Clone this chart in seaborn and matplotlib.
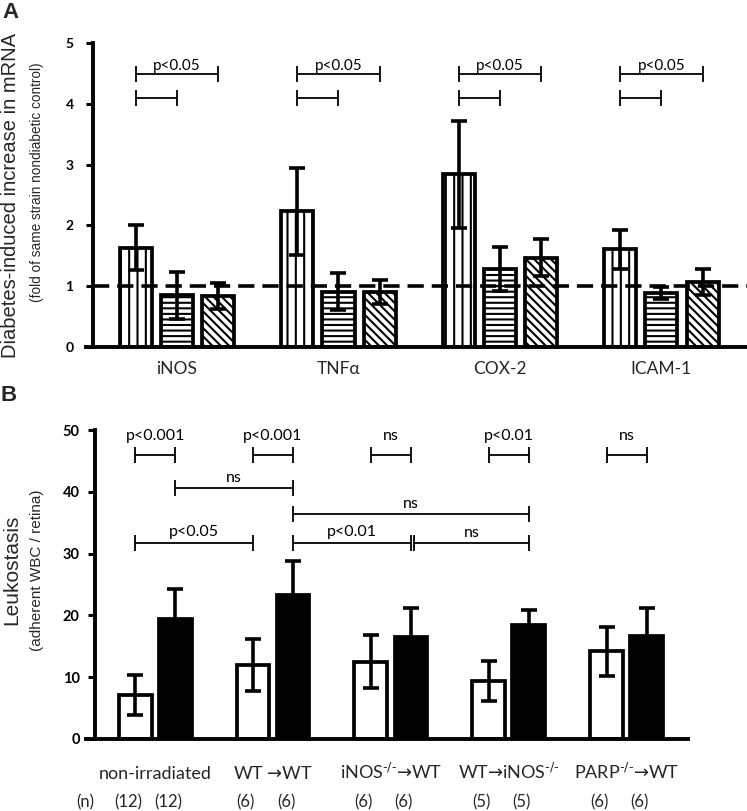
import numpy as np
import pandas as pd
import seaborn as sns
import matplotlib.pyplot as plt
from matplotlib.transforms import blended_transform_factory

# ---------------- Panel A data ----------------
genes = ['iNOS', 'TNFα', 'COX-2', 'ICAM-1']
chimeras_a = ['WT→WT', 'iNOS-/-→WT', 'PARP-/-→WT']
mrna_wt = [1.63, 2.23, 2.84, 1.61]
mrna_wt_sem = [0.37, 0.71, 0.88, 0.32]
mrna_inos = [0.85, 0.91, 1.28, 0.89]
mrna_inos_sem = [0.39, 0.30, 0.36, 0.10]
mrna_parp = [0.84, 0.91, 1.47, 1.07]
mrna_parp_sem = [0.22, 0.20, 0.30, 0.22]
a_yticks = [0, 1, 2, 3, 4, 5]
a_reference = 1.0
# comparisons in every gene group: (bar i, bar j, level, label)
a_comparisons = [(0, 2, 4.49, 'p<0.05'), (0, 1, 4.10, '')]

# ---------------- Panel B data ----------------
groups_b = ['non-irradiated',
            r'WT $\text{→}$WT',
            r'iNOS$^{\text{-/-}}\text{→}$WT',
            r'WT$\text{→}$iNOS$^{\text{-/-}}$',
            r'PARP$^{\text{-/-}}\text{→}$WT']
conditions_b = ['nondiabetic', 'diabetic']
leuko_nondiab = [7.1, 12.0, 12.5, 9.4, 14.2]
leuko_nondiab_sem = [3.2, 4.2, 4.3, 3.3, 4.0]
leuko_diab = [19.4, 23.3, 16.5, 18.4, 16.6]
leuko_diab_sem = [4.9, 5.5, 4.7, 2.4, 4.6]
n_nondiab = [12, 6, 6, 5, 6]
n_diab = [12, 6, 6, 5, 6]
b_yticks = [0, 10, 20, 30, 40, 50]
# ((group, condition), (group, condition), level, label, label gap)
b_comparisons = [
    ((0, 0), (0, 1), 46.0, 'p<0.001', 2.4),
    ((1, 0), (1, 1), 46.0, 'p<0.001', 2.4),
    ((2, 0), (2, 1), 46.0, 'ns', 2.4),
    ((3, 0), (3, 1), 46.0, 'p<0.01', 2.4),
    ((4, 0), (4, 1), 46.0, 'ns', 2.4),
    ((0, 1), (1, 1), 40.6, 'ns', 1.0),
    ((1, 1), (3, 1), 36.4, 'ns', 1.0),
    ((0, 0), (1, 0), 31.7, 'p<0.05', 1.2),
    ((1, 1), (2, 1), 31.7, 'p<0.01', 1.2),
    ((2, 1), (3, 1), 31.7, 'ns', 1.0),
]

# ---------------- style ----------------
sns.set_theme(style='ticks')
plt.rcParams['font.family'] = ['Lato', 'DejaVu Sans']
plt.rcParams['mathtext.fontset'] = 'dejavusans'
plt.rcParams['hatch.linewidth'] = 1.5
plt.rcParams['hatch.color'] = 'black'
plt.rcParams['axes.linewidth'] = 2.8

fig = plt.figure(figsize=(7.47, 8.11), dpi=100)
W, H = 747.0, 811.0
axA = fig.add_axes([93 / W, 1 - 347 / H, (747 - 93) / W, (347 - 43) / H])
axB = fig.add_axes([95 / W, 1 - 739 / H, (688 - 95) / W, (739 - 430) / H])

EDGE_LW = 2.7


def bracket(ax, x1, x2, y, h, label, gap, fs):
    kw = dict(color='black', lw=1.3, solid_capstyle='butt', zorder=6, clip_on=False)
    ax.plot([x1, x2], [y, y], **kw)
    ax.plot([x1, x1], [y - h, y + h], **kw)
    ax.plot([x2, x2], [y - h, y + h], **kw)
    if label:
        ax.text((x1 + x2) / 2, y + gap, label, ha='center', va='baseline',
                fontsize=fs, color='black')


def style_axis(ax):
    sns.despine(ax=ax)
    for s in ['left', 'bottom']:
        ax.spines[s].set_linewidth(2.8)
        ax.spines[s].set_color('black')
    ax.tick_params(axis='y', direction='out', length=5, width=2.2, colors='black')
    ax.tick_params(axis='x', length=0)
    ax.set_xlabel('')
    ax.set_ylabel('')
    ax.set_facecolor('white')


# ---------------- Panel A ----------------
dfA = pd.DataFrame({
    'gene': genes * 3,
    'strain': sum([[c] * len(genes) for c in chimeras_a], []),
    'value': mrna_wt + mrna_inos + mrna_parp,
})
semA = [mrna_wt_sem, mrna_inos_sem, mrna_parp_sem]
sns.barplot(data=dfA, x='gene', y='value', hue='strain', order=genes,
            hue_order=chimeras_a, palette=['white'] * 3, saturation=1,
            edgecolor='black', linewidth=EDGE_LW, width=0.765, gap=0.22,
            errorbar=None, legend=False, ax=axA)
hatches = ['||', '---', '\\\\\\\\']
centersA = []
bar_conts_A = list(axA.containers)
for k, cont in enumerate(bar_conts_A):
    xs, ys = [], []
    for p in cont.patches:
        p.set_hatch(hatches[k])
        p.set_facecolor('white')
        p.set_edgecolor('black')
        xs.append(p.get_x() + p.get_width() / 2)
        ys.append(p.get_height())
    centersA.append(xs)
    axA.errorbar(xs, ys, yerr=semA[k], fmt='none', ecolor='black',
                 elinewidth=2.6, capsize=6, capthick=2.6, zorder=5)
axA.axhline(a_reference, color='black', lw=2.6, ls=(0, (4.5, 2.2)), zorder=4)
axA.set_ylim(0, 5)
axA.set_xlim(-0.52, 3.53)
axA.set_yticks(a_yticks)
style_axis(axA)
axA.tick_params(axis='y', labelsize=10, pad=9)
axA.tick_params(axis='x', labelsize=12.5, pad=10)
for t in axA.get_yticklabels():
    t.set_fontweight('bold')
axA.spines['bottom'].set_bounds(-0.563, 3.53)
for g in range(len(genes)):
    for i, j, lvl, lab in a_comparisons:
        bracket(axA, centersA[i][g], centersA[j][g], lvl, 0.13, lab, 0.07, 11)

# ---------------- Panel B ----------------
dfB = pd.DataFrame({
    'group': groups_b * 2,
    'cond': sum([[c] * len(groups_b) for c in conditions_b], []),
    'value': leuko_nondiab + leuko_diab,
})
semB = [leuko_nondiab_sem, leuko_diab_sem]
nB = [n_nondiab, n_diab]
sns.barplot(data=dfB, x='group', y='value', hue='cond', order=groups_b,
            hue_order=conditions_b, palette=['white', 'black'], saturation=1,
            edgecolor='black', linewidth=EDGE_LW, width=0.68, gap=0.18,
            errorbar=None, legend=False, ax=axB)
centersB = []
trans = blended_transform_factory(axB.transData, axB.transAxes)
bar_conts_B = list(axB.containers)
for k, cont in enumerate(bar_conts_B):
    xs, ys = [], []
    for p in cont.patches:
        p.set_edgecolor('black')
        xs.append(p.get_x() + p.get_width() / 2)
        ys.append(p.get_height())
    centersB.append(xs)
    axB.errorbar(xs, ys, yerr=semB[k], fmt='none', ecolor='black',
                 elinewidth=2.6, capsize=6, capthick=2.6, zorder=5)
    for x, n in zip(xs, nB[k]):
        axB.text(x - 0.06, -0.205, f'({n})', transform=trans, ha='center',
                 va='center', fontsize=12, clip_on=False)
axB.text(-0.017, -0.205, '(n)', transform=axB.transAxes, ha='center',
         va='center', fontsize=12)
axB.set_ylim(0, 50)
axB.set_xlim(-0.51, 4.52)
axB.set_yticks(b_yticks)
style_axis(axB)
axB.tick_params(axis='y', labelsize=10.5, pad=6)
axB.tick_params(axis='x', labelsize=13, pad=29)
for t in axB.get_yticklabels():
    t.set_fontweight('bold')
for t in axB.get_xticklabels():
    t.set_va('baseline')
axB.spines['bottom'].set_bounds(-0.586, 4.52)
prev_ends = []
for (g1, c1), (g2, c2), lvl, lab, gap in b_comparisons:
    x1 = centersB[c1][g1]
    x2 = centersB[c2][g2]
    if any(abs(x1 - e) < 1e-9 and abs(lvl - l) < 1e-9 for e, l in prev_ends):
        x1 += 0.028
    prev_ends.append((centersB[c2][g2], lvl))
    bracket(axB, x1, x2, lvl, 1.3, lab, gap, 11.5)

# ---------------- labels ----------------
fig.text(11 / W, 1 - 195 / H, 'Diabetes-induced increase in mRNA', rotation=90,
         ha='center', va='center', fontsize=14.5, family='Liberation Sans')
fig.text(37 / W, 1 - 182 / H, '(fold of same strain nondiabetic control)', rotation=90,
         ha='center', va='center', fontsize=9.8, family='Liberation Sans')
fig.text(12 / W, 1 - 570 / H, 'Leukostasis', rotation=90,
         ha='center', va='center', fontsize=15, family='Liberation Sans')
fig.text(37 / W, 1 - 570 / H, '(adherent WBC / retina)', rotation=90,
         ha='center', va='center', fontsize=11, family='Liberation Sans')
fig.text(2 / W, 1 - 2 / H, 'A', ha='left', va='top', fontsize=16,
         fontweight='bold', family='Liberation Sans')
fig.text(1 / W, 1 - 385 / H, 'B', ha='left', va='top', fontsize=16,
         fontweight='bold', family='Liberation Sans')

fig.savefig('out.png', dpi=100, facecolor='white')
